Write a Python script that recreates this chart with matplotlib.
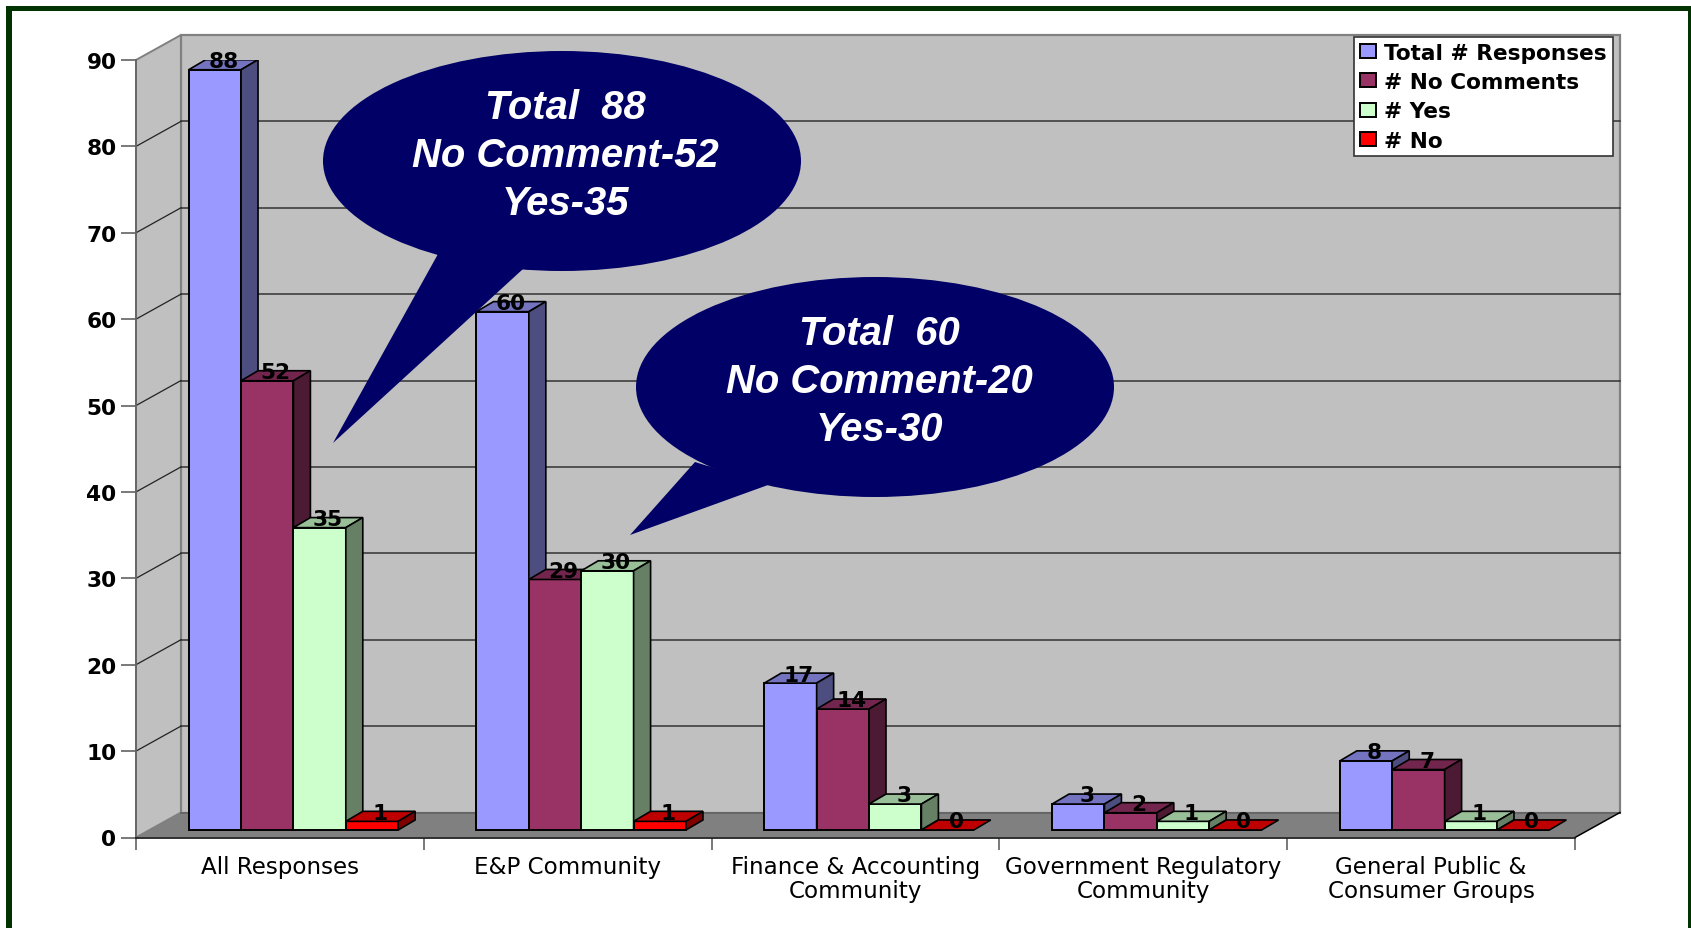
#!/usr/bin/env python3
import matplotlib
matplotlib.use("Agg")
import matplotlib.pyplot as plt
from matplotlib.patches import Ellipse, Polygon, Rectangle

categories = [
    "All Responses",
    "E&P Community",
    "Finance & Accounting\nCommunity",
    "Government Regulatory\nCommunity",
    "General Public &\nConsumer Groups",
]
total_responses = [88, 60, 17, 3, 8]
no_comments = [52, 29, 14, 2, 7]
yes_counts = [35, 30, 3, 1, 1]
no_counts = [1, 1, 0, 0, 0]
series_names = ["Total # Responses", "# No Comments", "# Yes", "# No"]
y_ticks = list(range(0, 100, 10))

callout_one = ["Total  88", "No Comment-52", "Yes-35"]
callout_two = ["Total  60", "No Comment-20", "Yes-30"]

W, H = 1691, 929

# front, top, side colours of each series
colors = [
    ("#9999FF", "#7373BF", "#4D4D80"),
    ("#993366", "#73264D", "#4D1A33"),
    ("#CCFFCC", "#99BF99", "#668066"),
    ("#FF0000", "#BF0000", "#800000"),
]

# fake 3d: how far the floor, the bars and the bar depth go, in data units
FLOOR_DX, FLOOR_DY = 0.156, 2.89
SHIFT_DY = 0.87
BAR_DX, BAR_DY = 0.059, 1.16
BAR_W = 0.182
GROUP_LEFT = 0.183

WALL = "#C0C0C0"
FLOOR = "#808080"
EDGE = "#808080"
NAVY = "#000066"
FRAME = "#003300"


def draw_room(ax):
    dx, dy = FLOOR_DX, FLOOR_DY
    top = y_ticks[-1]
    n = len(categories)
    ax.add_patch(Polygon([(dx, dy), (n + dx, dy), (n + dx, top + dy), (dx, top + dy)],
                         fc=WALL, ec=EDGE, lw=1.6, zorder=1, clip_on=False))
    ax.add_patch(Polygon([(0, 0), (dx, dy), (dx, top + dy), (0, top)],
                         fc=WALL, ec=EDGE, lw=1.4, zorder=1, clip_on=False))
    ax.add_patch(Polygon([(0, 0), (n, 0), (n + dx, dy), (dx, dy)],
                         fc=FLOOR, ec="none", zorder=1.2, clip_on=False))
    ax.plot([dx, n + dx], [dy, dy], color="#666666", lw=1.4, zorder=1.3, clip_on=False)
    ax.plot([n, n + dx], [0, dy], color="black", lw=1.1, zorder=1.3, clip_on=False)
    for t in y_ticks[1:-1]:
        ax.plot([dx, n + dx], [t + dy, t + dy], color="#333333", lw=1.1, zorder=1.5, clip_on=False)
        ax.plot([0, dx], [t, t + dy], color="#222222", lw=0.9, zorder=1.5, clip_on=False)


def draw_series(ax, index, values):
    front, top, side = colors[index]
    lefts = [i + GROUP_LEFT + index * BAR_W for i in range(len(values))]
    z = 3 + index
    bars = ax.bar(lefts, values, width=BAR_W, bottom=SHIFT_DY, align="edge",
                  color=front, edgecolor="black", linewidth=1.4, zorder=z,
                  label=series_names[index])
    for x, v in zip(lefts, values):
        y = v + SHIFT_DY
        ax.add_patch(Polygon([(x, y), (x + BAR_W, y), (x + BAR_W + BAR_DX, y + BAR_DY),
                              (x + BAR_DX, y + BAR_DY)],
                             fc=top, ec="black", lw=1.2, zorder=z))
        if v > 0:
            ax.add_patch(Polygon([(x + BAR_W, SHIFT_DY), (x + BAR_W + BAR_DX, SHIFT_DY + BAR_DY),
                                  (x + BAR_W + BAR_DX, y + BAR_DY), (x + BAR_W, y)],
                                 fc=side, ec="black", lw=1.2, zorder=z))
        ax.text(x + (BAR_W + BAR_DX) / 2, y + 0.3, str(v), ha="center", va="baseline",
                fontsize=15.6, fontweight="bold", color="black", zorder=10)
    return bars


def draw_callout(over, center, tail, lines, baselines, text_x):
    over.add_patch(Ellipse(center, 478, 220, fc=NAVY, ec="none"))
    over.add_patch(Polygon(tail, fc=NAVY, ec="none"))
    for line, base in zip(lines, baselines):
        over.text(text_x, base, line, ha="center", va="baseline", color="white",
                  family="Liberation Sans", fontweight="bold", fontstyle="italic",
                  fontsize=28.8)


def main():
    fig = plt.figure(figsize=(W / 100, H / 100), dpi=100, facecolor="white")
    ax = fig.add_axes([136 / W, (H - 838.5) / H, (1575 - 136) / W, (838.5 - 61) / H])
    ax.patch.set_visible(False)
    ax.set_xlim(0, len(categories))
    ax.set_ylim(0, y_ticks[-1])

    draw_room(ax)
    all_values = [total_responses, no_comments, yes_counts, no_counts]
    bars = [draw_series(ax, i, vals) for i, vals in enumerate(all_values)]

    for name in ("top", "right"):
        ax.spines[name].set_visible(False)
    ax.spines["left"].set_color("#666666")
    ax.spines["left"].set_linewidth(1.3)
    ax.spines["left"].set_zorder(2)
    ax.spines["bottom"].set_color("#222222")
    ax.spines["bottom"].set_linewidth(1.3)

    ax.set_yticks(y_ticks)
    ax.tick_params(axis="y", length=10.8, width=1.1, color="#555555", pad=3.3, labelsize=15.6)
    for lab in ax.get_yticklabels():
        lab.set_fontweight("bold")

    ax.set_xticks(range(len(categories) + 1))
    ax.set_xticklabels([])
    ax.set_xticks([i + 0.5 for i in range(len(categories))], minor=True)
    ax.set_xticklabels(categories, minor=True, fontsize=16.6, linespacing=1.08)
    ax.tick_params(axis="x", which="major", length=8.6, width=1.1, color="#555555")
    ax.tick_params(axis="x", which="minor", length=0, pad=12.5)

    leg = ax.legend(
        bars,
        series_names,
        loc="upper left",
        bbox_to_anchor=(1354 / W, 1 - 38 / H),
        bbox_transform=fig.transFigure,
        borderaxespad=0,
        prop={"weight": "bold", "size": 15.6},
        fancybox=False,
        framealpha=1,
        facecolor="white",
        edgecolor="#333333",
        handlelength=0.74,
        handleheight=0.6,
        handletextpad=0.4,
        labelspacing=0.43,
        borderpad=0.26,
    )
    leg.set_zorder(20)
    leg.get_frame().set_linewidth(1.2)

    # callouts and outer frame are slide decoration, placed in pixels
    over = fig.add_axes([0, 0, 1, 1], zorder=5)
    over.set_xlim(0, W)
    over.set_ylim(H, 0)
    over.axis("off")

    draw_callout(over, (562, 162), [(438, 255), (333, 444), (523, 270)],
                 callout_one, [119, 167, 215], 565)
    draw_callout(over, (875, 388), [(695, 463), (630, 536), (768, 486)],
                 callout_two, [345, 393, 441], 879)

    over.add_patch(Rectangle((6, 6.5), W - 6, 5.5, fc=FRAME, ec="none"))
    over.add_patch(Rectangle((6, 6.5), 6, H - 6.5, fc=FRAME, ec="none"))
    over.add_patch(Rectangle((1688, 6.5), 3, H - 6.5, fc=FRAME, ec="none"))

    fig.savefig("out.png", dpi=100)


if __name__ == "__main__":
    main()
